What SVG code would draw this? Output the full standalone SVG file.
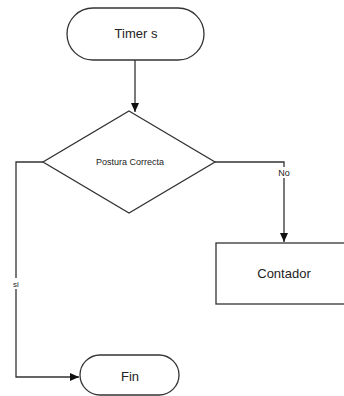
<svg xmlns="http://www.w3.org/2000/svg" width="344" height="396" viewBox="0 0 344 396">
<defs>
<marker id="arr" markerWidth="10" markerHeight="10" refX="9" refY="5" orient="auto" markerUnits="userSpaceOnUse">
<path d="M0,1 L9,5 L0,9 Z" fill="#111"/>
</marker>
<style>
.shape{fill:#fff;stroke:#333;stroke-width:1.3}
.conn{fill:none;stroke:#333;stroke-width:1.3}
text{font-family:"Liberation Sans",Arial,sans-serif;fill:#222;text-anchor:middle;dominant-baseline:central}
</style>
</defs>
<rect width="344" height="396" fill="#fff"/>
<g id="connectors">
<path class="conn" d="M135,60 L135,112" marker-end="url(#arr)"/>
<path class="conn" d="M215,162 L284,162 L284,242" marker-end="url(#arr)"/>
<path class="conn" d="M43,162 L16,162 L16,377 L79,377" marker-end="url(#arr)"/>
<rect x="277" y="167" width="14" height="11" fill="#fff"/>
<text x="284" y="173" font-size="9">No</text>
<rect x="10" y="278" width="12" height="11" fill="#fff"/>
<text x="16" y="284" font-size="8">si</text>
</g>
<g id="timer">
<rect class="shape" x="67" y="8" width="137" height="52" rx="26"/>
<text x="136" y="33" font-size="13">Timer s</text>
</g>
<g id="postura">
<path class="shape" d="M129,111 L215,162 L129,213 L43,162 Z"/>
<text x="130" y="162" font-size="9">Postura Correcta</text>
</g>
<g id="contador">
<rect class="shape" x="216" y="243" width="138" height="61"/>
<text x="284" y="273" font-size="13">Contador</text>
</g>
<g id="fin">
<rect class="shape" x="80" y="355" width="99" height="40" rx="20"/>
<text x="130" y="376" font-size="13">Fin</text>
</g>
</svg>
